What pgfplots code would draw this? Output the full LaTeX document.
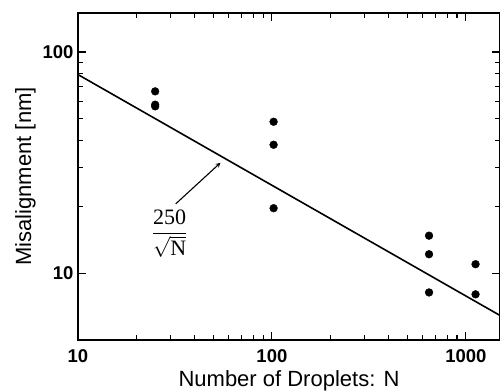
\documentclass[border=0pt]{standalone}
\usepackage{amsmath}
\usepackage{fontspec}
\setmainfont{Liberation Sans}
\newfontfamily\serif{Liberation Serif}
\usepackage{pgfplots}
\pgfplotsset{compat=1.18}
\begin{document}
\begin{tikzpicture}
\begin{loglogaxis}[
  at={(0,0)}, anchor=south west,
  scale only axis, width=422pt, height=327pt,
  xmin=10, xmax=1500, ymin=5, ymax=150,
  axis line style={line width=1.4pt},
  tick align=inside,
  major tick length=8pt, minor tick length=5pt,
  every tick/.style={line width=1.1pt, black},
  xtick={10,100,1000}, xticklabels={10,100,1000},
  ytick={10,100}, yticklabels={10,100},
  /pgf/number format/assume math mode=true,
  ticklabel style={font=\bfseries\fontsize{18.5}{18.5}\selectfont},
  xticklabel style={yshift=-6pt},
  yticklabel style={xshift=-1pt},
  xlabel={Number of Droplets: N},
  ylabel={Misalignment [nm]},
  label style={font=\fontsize{22}{22}\selectfont},
  xlabel style={yshift=-1pt},
  ylabel style={yshift=0pt},
  clip=true,
]
\addplot[black, line width=1.6pt, no marks] coordinates {(10,79.06) (1500,6.455)};
\addplot[only marks, mark=*, mark size=3.9pt, black] coordinates {
  (25,66.4) (25,57.8) (25,56.8)
  (102,48.4) (102,38.1) (102,19.7)
  (646,14.8) (646,12.2) (646,8.2)
  (1122,11.0) (1122,8.04)
};
\draw[-stealth, line width=1.1pt] (axis cs:31.9,20.6) -- (axis cs:54.3,31.6);
\node[font=\serif\fontsize{22}{22}\selectfont] at (axis cs:29.7,15.1) {$\dfrac{\text{\serif 250}}{\sqrt{\text{\serif N}}}$};
\end{loglogaxis}
\pgfresetboundingbox
\useasboundingbox (-78pt,-51pt) rectangle (422pt,340pt);
\end{tikzpicture}
\end{document}
